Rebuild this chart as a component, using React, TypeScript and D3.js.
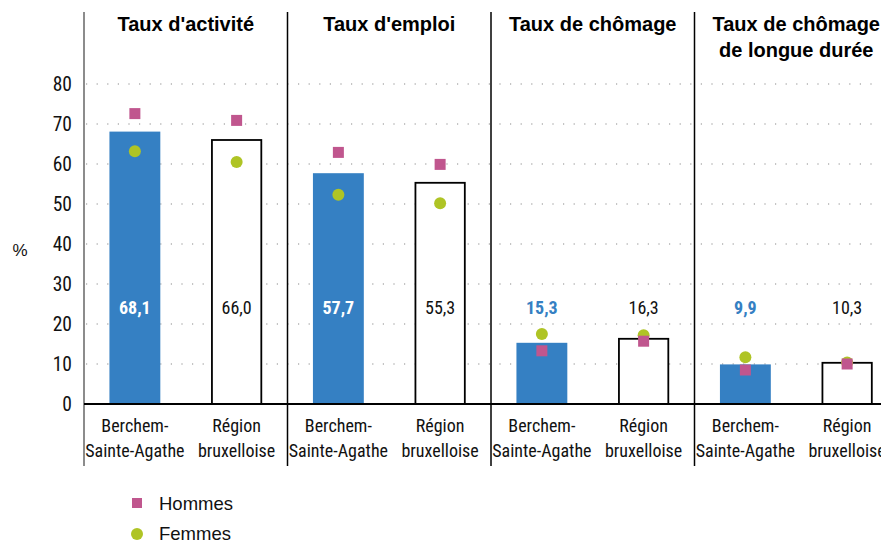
import React from "react";
import * as d3 from "d3";

const panels = ["Taux d'activité", "Taux d'emploi", "Taux de chômage", "Taux de chômage|de longue durée"];
const areas = ["Berchem-|Sainte-Agathe", "Région|bruxelloise"];
const totals = [
  [68.1, 66.0],
  [57.7, 55.3],
  [15.3, 16.3],
  [9.9, 10.3],
];
const totalLabels = [
  ["68,1", "66,0"],
  ["57,7", "55,3"],
  ["15,3", "16,3"],
  ["9,9", "10,3"],
];
const hommes = [
  [72.6, 70.9],
  [62.9, 59.9],
  [13.3, 15.7],
  [8.5, 10.0],
];
const femmes = [
  [63.2, 60.5],
  [52.3, 50.2],
  [17.5, 17.2],
  [11.7, 10.4],
];
const yTicks = [0, 10, 20, 30, 40, 50, 60, 70, 80];

const W = 881;
const H = 543;
const BLUE = "#3580C3";
const PINK = "#C0568E";
const GREEN = "#AFC425";
const FONT = "'Liberation Sans Narrow', 'Roboto Condensed', 'DejaVu Sans Condensed', Roboto, sans-serif";
const TITLE_FONT = "'Liberation Sans', Arial, sans-serif";

export default function App() {
  const y = d3.scaleLinear().domain([0, 80]).range([404, 84]);
  const xPanel = d3.scaleBand<string>().domain(panels).range([84, 898]);
  const xInner = d3.scaleBand<string>().domain(areas).range([0, xPanel.step()]).paddingInner(0.5).paddingOuter(0.25);
  const bw = xInner.bandwidth();
  const labelY = y(22.6);
  const top = 12;
  const bottom = 466;

  return (
    <svg width={W} height={H} style={{ position: "absolute", left: 0, top: 0, background: "#fff" }}>
      {/* gridlines */}
      {yTicks.filter((t) => t > 0).map((t) => (
        <line key={"g" + t} x1={86} x2={W} y1={y(t)} y2={y(t)} stroke="#8a8a8a" strokeWidth={1.2} strokeDasharray="1.2 9.4" />
      ))}
      {/* y tick labels */}
      {yTicks.map((t) => (
        <text key={"t" + t} x={72} y={y(t) + 7} textAnchor="end" fontFamily={FONT} fontSize={19.5} fill="#111">
          {t}
        </text>
      ))}
      <text x={20} y={y(40) + 12} textAnchor="middle" fontFamily={TITLE_FONT} fontSize={17} fill="#111">%</text>

      {panels.map((p, pi) => {
        const x0 = xPanel(p)!;
        const cx = x0 + xPanel.step() / 2;
        const lines = p.split("|");
        return (
          <g key={p}>
            {lines.map((l, li) => (
              <text key={li} x={cx} y={31 + li * 26} textAnchor="middle" fontFamily={TITLE_FONT} fontWeight="bold" fontSize={20} fill="#000">
                {l}
              </text>
            ))}
            {areas.map((a, ai) => {
              const bx = x0 + xInner(a)!;
              const mx = bx + bw / 2;
              const v = totals[pi][ai];
              const isBlue = ai === 0;
              const inside = y(v) < labelY - 20;
              const labelColor = isBlue ? (inside ? "#fff" : BLUE) : "#111";
              return (
                <g key={a}>
                  {isBlue ? (
                    <rect x={bx} y={y(v)} width={bw} height={y(0) - y(v)} fill={BLUE} />
                  ) : (
                    <rect x={bx + 0.75} y={y(v)} width={bw - 1.5} height={y(0) - y(v)} fill="#fff" stroke="#000" strokeWidth={1.8} />
                  )}
                  <text x={mx} y={labelY} textAnchor="middle" fontFamily={FONT} fontSize={18} fontWeight={isBlue ? "bold" : "normal"} fill={labelColor}>
                    {totalLabels[pi][ai]}
                  </text>
                  <circle cx={mx} cy={y(femmes[pi][ai])} r={6} fill={GREEN} />
                  <rect x={mx - 5.5} y={y(hommes[pi][ai]) - 5.5} width={11} height={11} fill={PINK} />
                  {a.split("|").map((l, li) => (
                    <text key={li} x={mx} y={432 + li * 25} textAnchor="middle" fontFamily={FONT} fontSize={18} fill="#111">
                      {l}
                    </text>
                  ))}
                </g>
              );
            })}
            {pi > 0 && <line x1={x0} x2={x0} y1={top} y2={bottom} stroke="#000" strokeWidth={1.5} />}
          </g>
        );
      })}

      {/* left axis */}
      <line x1={84} x2={84} y1={top} y2={bottom} stroke="#666" strokeWidth={1.5} />
      {/* baseline */}
      <line x1={84} x2={W} y1={y(0)} y2={y(0)} stroke="#000" strokeWidth={2} />

      {/* legend */}
      <rect x={132} y={498} width={10} height={10} fill={PINK} />
      <text x={159} y={510} fontFamily={TITLE_FONT} fontSize={18.5} fill="#111">Hommes</text>
      <circle cx={137} cy={534} r={6} fill={GREEN} />
      <text x={159} y={540} fontFamily={TITLE_FONT} fontSize={18.5} fill="#111">Femmes</text>
    </svg>
  );
}
